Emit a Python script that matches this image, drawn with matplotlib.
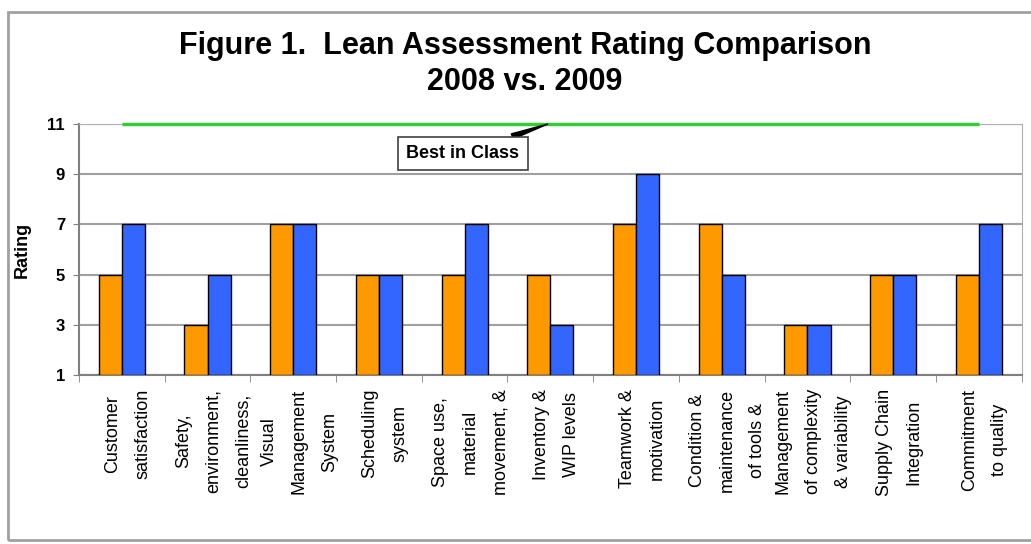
import matplotlib
matplotlib.use('Agg')
import matplotlib.pyplot as plt
import matplotlib.transforms as mtransforms
from matplotlib.patches import Rectangle
import numpy as np

plt.rcParams['font.family'] = ['Liberation Sans', 'DejaVu Sans']

categories = ['Customer\nsatisfaction',
              'Safety,\nenvironment,\ncleanliness,',
              'Visual\nManagement\nSystem',
              'Scheduling\nsystem',
              'Space use,\nmaterial\nmovement, &',
              'Inventory &\nWIP levels',
              'Teamwork &\nmotivation',
              'Condition &\nmaintenance\nof tools &',
              'Management\nof complexity\n& variability',
              'Supply Chain\nIntegration',
              'Commitment\nto quality']
rating_2008 = [5, 3, 7, 5, 5, 5, 7, 7, 3, 5, 5]
rating_2009 = [7, 5, 7, 5, 7, 3, 9, 5, 3, 5, 7]
best_in_class = [11] * len(categories)
y_ticks = [1, 3, 5, 7, 9, 11]

fig = plt.figure(figsize=(10.31, 5.44), dpi=100)
ax = fig.add_axes([0.0766, 0.3107, 0.9144, 0.4613])

x = np.arange(len(categories))
w = 0.27
ax.bar(x - w / 2, np.array(rating_2008) - 1, w, bottom=1, color='#FF9900',
       edgecolor='black', linewidth=1, zorder=3)
ax.bar(x + w / 2, np.array(rating_2009) - 1, w, bottom=1, color='#3366FF',
       edgecolor='black', linewidth=1, zorder=3)
ax.plot(x, best_in_class, color='#33CC33', linewidth=2.5, zorder=4,
        solid_capstyle='butt', clip_on=False)

ax.set_xlim(-0.5, len(categories) - 0.5)
ax.set_ylim(1, 11)
ax.set_yticks(y_ticks)
ax.tick_params(axis='y', labelsize=12, length=4, color='#808080', pad=6)
for t in ax.get_yticklabels():
    t.set_fontweight('bold')

# category labels drawn by hand, a touch right of centre like excel does
ax.set_xticks(x)
ax.set_xticklabels([])
ax.tick_params(axis='x', length=0)
ax.set_xticks(np.arange(len(categories) + 1) - 0.5, minor=True)
ax.tick_params(axis='x', which='minor', length=5, color='#808080')
trans = ax.get_xaxis_transform() + mtransforms.ScaledTranslation(
    6 / 100, -14 / 100, fig.dpi_scale_trans)
for xi, lab in zip(x, categories):
    ax.text(xi, 0, lab, transform=trans, rotation=90, ha='center', va='top',
            multialignment='center', fontsize=13, linespacing=2.0)

ax.grid(axis='y', color='#A0A0A0', linewidth=1.5, zorder=0)
for side in ['top', 'right']:
    ax.spines[side].set_color('#B0B0B0')
for side in ['left', 'bottom']:
    ax.spines[side].set_color('#808080')
    ax.spines[side].set_linewidth(1.5)

ax.set_ylabel('Rating', fontsize=13, fontweight='bold', labelpad=12)

ax.annotate('Best in Class', xy=(4.97, 11), xytext=(3.98, 9.82),
            ha='center', va='center', fontsize=13, fontweight='bold',
            bbox=dict(boxstyle='square,pad=0.45', fc='white', ec='#404040', lw=1.2),
            arrowprops=dict(arrowstyle='wedge,tail_width=0.3', fc='black',
                            ec='black', shrinkA=0, shrinkB=0),
            zorder=5)

fig.text(0.509, 0.882, 'Figure 1.  Lean Assessment Rating Comparison\n2008 vs. 2009',
         ha='center', va='center', fontsize=22, fontweight='bold',
         linespacing=1.25)

fig.patches.append(Rectangle((0.0078, 0.0074), 1.1, 0.9706, transform=fig.transFigure,
                             fill=False, ec='#A0A0A0', lw=2))

fig.savefig('out.png', dpi=100)
